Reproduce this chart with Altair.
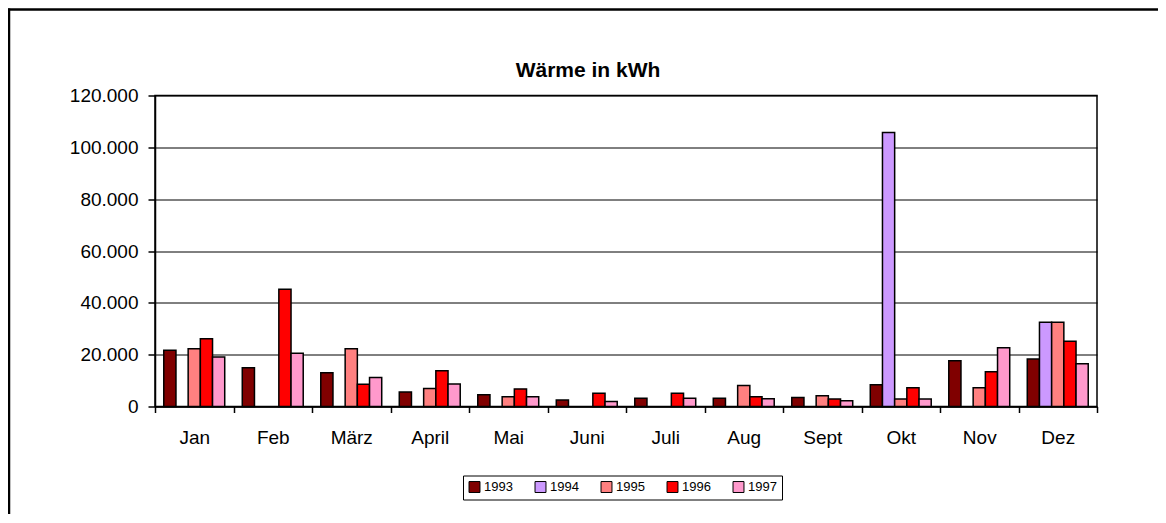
import altair as alt
import pandas as pd

months = ["Jan", "Feb", "März", "April", "Mai", "Juni", "Juli", "Aug", "Sept", "Okt", "Nov", "Dez"]
years = ["1993", "1994", "1995", "1996", "1997"]
w1993 = [21700, 15000, 13000, 5600, 4500, 2500, 3200, 3200, 3500, 8400, 17700, 18300]
w1994 = [None, None, None, None, None, None, None, None, None, 105700, None, 32500]
w1995 = [22300, None, 22300, 6900, 3800, None, None, 8100, 4100, 2900, 7200, 32500]
w1996 = [26100, 45200, 8600, 13800, 6800, 5100, 5100, 3800, 2900, 7200, 13400, 25200]
w1997 = [19100, 20500, 11200, 8700, 3800, 1900, 3200, 3000, 2200, 2900, 22700, 16500]
colors = ["#800000", "#CC99FF", "#FF8080", "#FF0000", "#FF99CC"]
y_ticks = [0, 20000, 40000, 60000, 80000, 100000, 120000]
title_text = "Wärme in kWh"

series = [w1993, w1994, w1995, w1996, w1997]
rows = []
for yr, vals in zip(years, series):
    for m, v in zip(months, vals):
        if v is not None:
            rows.append({"Monat": m, "Jahr": yr, "Wert": v})
df = pd.DataFrame(rows)

FONT = "Liberation Sans"

bars = alt.Chart(df).mark_bar(stroke="black", strokeWidth=1.5).encode(
    x=alt.X("Monat:N", sort=months,
            scale=alt.Scale(domain=months, paddingInner=0, paddingOuter=0),
            axis=alt.Axis(title=None, labelAngle=0, tickBand="extent", tickSize=6,
                          labelPadding=16, labelBaseline="top", labelFontSize=19,
                          labelFont=FONT, labelColor="black", domainColor="black",
                          domainWidth=1.5, tickColor="black", tickWidth=1.5, grid=False)),
    xOffset=alt.XOffset("Jahr:N", scale=alt.Scale(domain=years, paddingInner=0, paddingOuter=0.72)),
    y=alt.Y("Wert:Q", scale=alt.Scale(domain=[0, 120000], nice=False),
            axis=alt.Axis(title=None, values=y_ticks, tickSize=7, labelPadding=10,
                          labelExpr="replace(format(datum.value, ','), ',', '.')",
                          labelFontSize=19, labelFont=FONT, labelColor="black",
                          domainColor="black", domainWidth=1.5, tickColor="black",
                          tickWidth=1.5, grid=True, gridColor="black", gridWidth=1,
                          gridOpacity=1)),
    color=alt.Color("Jahr:N", scale=alt.Scale(domain=years, range=colors),
                    legend=alt.Legend(title=None, orient="none", legendX=308, legendY=380,
                                      direction="horizontal", columns=5,
                                      strokeColor="black", fillColor="white", padding=5,
                                      symbolType="square", symbolSize=120,
                                      symbolStrokeColor="black", symbolStrokeWidth=1,
                                      labelFontSize=13, labelFont=FONT, labelColor="black",
                                      labelOffset=3, columnPadding=20)),
)

frame_df = pd.DataFrame({"a": [0]})
left_line = alt.Chart(frame_df).mark_rule(color="black", strokeWidth=2.5).encode(
    x=alt.value(-146), y=alt.value(-87), y2=alt.value(600))
top_line = alt.Chart(frame_df).mark_rule(color="black", strokeWidth=2.5).encode(
    x=alt.value(-147), x2=alt.value(1200), y=alt.value(-86))
title = alt.Chart(frame_df).mark_text(fontSize=21, fontWeight="bold", font=FONT,
                                      color="black", align="center",
                                      baseline="alphabetic").encode(
    x=alt.value(433), y=alt.value(-18.5), text=alt.value(title_text))

chart = alt.layer(bars, left_line, top_line, title).properties(
    width=942, height=311,
    autosize=alt.AutoSizeParams(type="none"),
    padding={"left": 147, "top": 87.5, "right": 61, "bottom": 107},
).configure_view(stroke="black", strokeWidth=1.5)

chart.save("out.html", embed_options={"renderer": "svg", "actions": False})
